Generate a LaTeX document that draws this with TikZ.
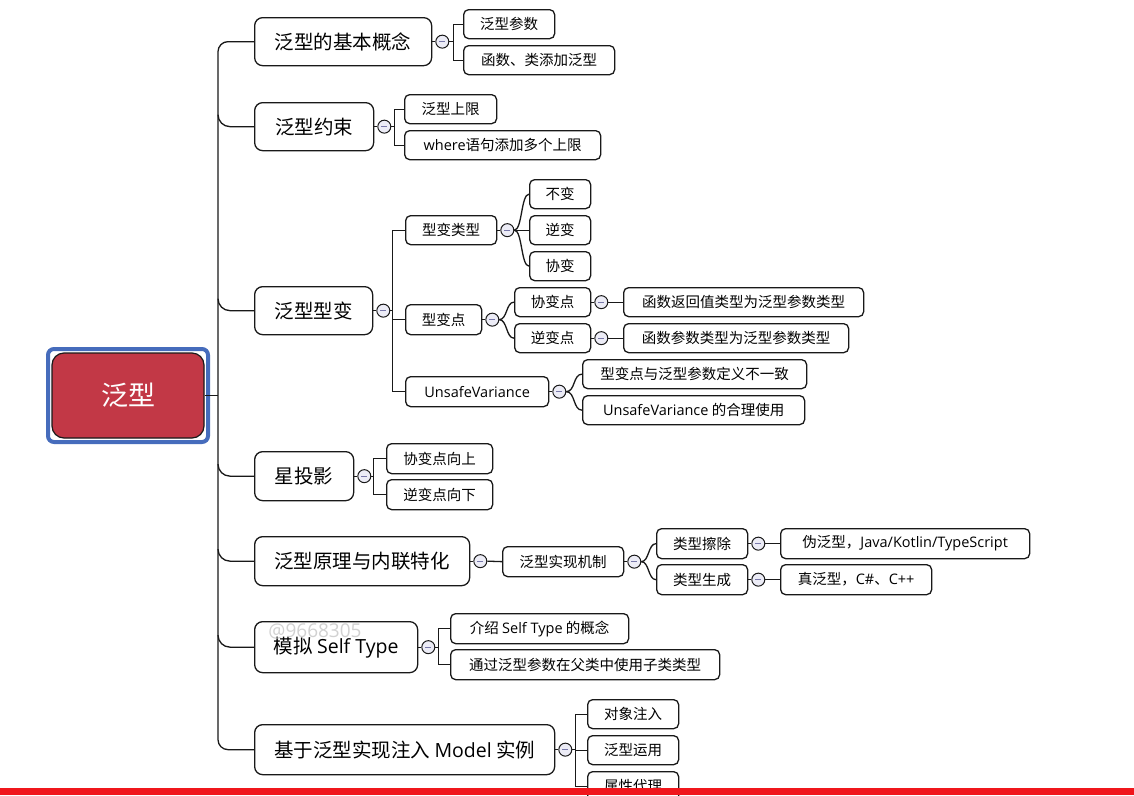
\documentclass[tikz,border=0pt]{standalone}
\usepackage{fontspec}
\setmainfont{Noto Sans CJK SC}
\newfontfamily\lat{Open Sans}
\usetikzlibrary{calc}

\definecolor{rootred}{RGB}{194,56,70}
\definecolor{rootblue}{RGB}{70,108,188}
\definecolor{togfill}{RGB}{236,236,246}
\definecolor{togmark}{RGB}{120,120,170}
\definecolor{barred}{RGB}{240,22,28}
\definecolor{inkline}{RGB}{25,25,25}

\tikzset{
  base/.style={draw=inkline, line width=1.3pt, fill=white, inner sep=0pt,
    anchor=north west, align=center},
  lone/.style={base, rounded corners=8pt, font=\fontsize{19.5}{22}\selectfont},
  ltwo/.style={base, rounded corners=5pt, font=\fontsize{14.5}{17}\selectfont},
  rootbox/.style={rectangle, rounded corners=12pt, fill=rootred, draw=inkline,
    line width=1.2pt, minimum width=152pt, minimum height=85pt, text=white,
    font=\fontsize{27}{30}\selectfont},
  rootframe/.style={rectangle, rounded corners=6pt, draw=rootblue, line width=4pt,
    minimum width=160pt, minimum height=93pt},
  tog/.style={circle, draw=inkline, line width=1pt, fill=togfill,
    minimum size=13pt, inner sep=0pt,
    path picture={\draw[togmark, line width=1pt]
      ($(path picture bounding box.center)+(-3,0)$) --
      ($(path picture bounding box.center)+(3,0)$);}},
  conn/.style={draw=inkline, line width=1.3pt},
  mark/.style={}, 
  wmark/.style={text=gray!45, font=\lat\fontsize{19}{21}\selectfont},
}

% box from its left, top, right and bottom edges
\newcommand\tbox[7]{\node[#2, minimum width={(#5-#3)*1pt},
  minimum height={(#6-#4)*1pt}] (#1) at (#3,#4) {#7};}
% collapse toggle to the right of a node
\newcommand\tog[2]{\node[tog] (#1) at ($(#2.east)+(10,0)$) {};}

\begin{document}
\begin{tikzpicture}[x=1pt, y=-1pt]
\useasboundingbox (0,0) rectangle (1134,795);
\clip (0,0) rectangle (1134,795);
\fill[white] (0,0) rectangle (1134,795);

% central topic
\node[rootframe] (frame) at (128,395.5) {};
\node[rootbox] (root) at (128,395.5) {泛型};
\coordinate (tk) at (218,395.5);

% main topics
\tbox{n1}{lone}{254}{17}{431}{65}{泛型的基本概念}
\tbox{n2}{lone}{254}{102}{373}{150}{泛型约束}
\tbox{n3}{lone}{254}{286}{372}{334}{泛型型变}
\tbox{n4}{lone}{254}{451}{353}{500}{星投影}
\tbox{n5}{lone}{254}{536}{469}{585}{泛型原理与内联特化}
\tbox{n6}{lone}{254}{621}{417}{672}{模拟 {\lat Self Type}}
\tbox{n7}{lone}{254}{724}{554}{774}{基于泛型实现注入 {\lat Model} 实例}

% trunk
\draw[conn] (root.east) -- (tk);
\draw[conn, rounded corners=10pt] (n1.west) -| (tk) |- (n7.west);
\foreach \n in {n2,n3,n4,n5,n6}{
  \draw[conn] (\n.west -| tk) ++(0,-12) to[out=-90,in=180] ++(12,12) -- (\n.west);
}

% subtopics
\tbox{n1a}{ltwo}{463}{9}{554}{38}{泛型参数}
\tbox{n1b}{ltwo}{463}{45}{614}{74}{函数、类添加泛型}
\tbox{n2a}{ltwo}{404}{94}{496}{123}{泛型上限}
\tbox{n2b}{ltwo}{404}{130}{600}{159}{{\lat where}语句添加多个上限}
\tbox{n3a}{ltwo}{405}{215}{496}{244}{型变类型}
\tbox{n3b}{ltwo}{405}{304}{481}{334}{型变点}
\tbox{n3c}{ltwo}{405}{376}{548}{406}{{\lat UnsafeVariance}}
\tbox{v1}{ltwo}{529}{179}{590}{208}{不变}
\tbox{v2}{ltwo}{529}{215}{590}{244}{逆变}
\tbox{v3}{ltwo}{529}{251}{590}{280}{协变}
\tbox{p1}{ltwo}{514}{287}{590}{316}{协变点}
\tbox{p2}{ltwo}{514}{323}{590}{352}{逆变点}
\tbox{p1a}{ltwo}{623}{287}{863}{316}{函数返回值类型为泛型参数类型}
\tbox{p2a}{ltwo}{623}{323}{848}{352}{函数参数类型为泛型参数类型}
\tbox{u1}{ltwo}{582}{359}{806}{388}{型变点与泛型参数定义不一致}
\tbox{u2}{ltwo}{582}{395}{804}{424}{{\lat UnsafeVariance} 的合理使用}
\tbox{n4a}{ltwo}{386}{443}{492}{473}{协变点向上}
\tbox{n4b}{ltwo}{386}{479}{492}{509}{逆变点向下}
\tbox{m1}{ltwo}{502}{546}{623}{576}{泛型实现机制}
\tbox{m1a}{ltwo}{656}{528}{747}{558}{类型擦除}
\tbox{m1b}{ltwo}{656}{564}{747}{594}{类型生成}
\tbox{m1a1}{ltwo}{780}{528}{1029}{558}{伪泛型，{\lat Java/Kotlin/TypeScript}}
\tbox{m1b1}{ltwo}{780}{564}{931}{594}{真泛型，{\lat C\#}、{\lat C++}}
\tbox{n6a}{ltwo}{450}{613}{628}{643}{介绍 {\lat Self Type} 的概念}
\tbox{n6b}{ltwo}{450}{649}{719}{679}{通过泛型参数在父类中使用子类类型}
\tbox{n7a}{ltwo}{587}{699}{678}{728}{对象注入}
\tbox{n7b}{ltwo}{587}{735}{678}{764}{泛型运用}
\tbox{n7c}{ltwo}{587}{771}{678}{800}{属性代理}

% toggles
\tog{c1}{n1} \tog{c2}{n2} \tog{c3}{n3} \tog{c4}{n4}
\tog{c5}{n5} \tog{c6}{n6} \tog{c7}{n7}
\tog{c3a}{n3a} \tog{c3b}{n3b} \tog{c3c}{n3c}
\tog{cp1}{p1} \tog{cp2}{p2}
\tog{cm1}{m1} \tog{cm1a}{m1a} \tog{cm1b}{m1b}

% elbow brackets
\draw[conn] (c1.east) -- ++(4,0) coordinate (b1) |- (n1a.west);
\draw[conn] (b1) |- (n1b.west);
\draw[conn] (c2.east) -- ++(3.5,0) coordinate (b2) |- (n2a.west);
\draw[conn] (b2) |- (n2b.west);
\draw[conn] (c3.east) -- ++(2.5,0) coordinate (b3) |- (n3a.west);
\draw[conn] (b3) |- (n3b.west);
\draw[conn] (b3) |- (n3c.west);
\draw[conn] (c4.east) -- ++(2.5,0) coordinate (b4) |- (n4a.west);
\draw[conn] (b4) |- (n4b.west);
\draw[conn] (c6.east) -- ++(3,0) coordinate (b6) |- (n6a.west);
\draw[conn] (b6) |- (n6b.west);
\draw[conn] (c7.east) -- ++(3,0) coordinate (b7) |- (n7a.west);
\draw[conn] (b7) |- (n7b.west);
\draw[conn] (b7) |- (n7c.west);

% parent to toggle
\foreach \p/\c in {n1/c1,n2/c2,n3/c3,n4/c4,n5/c5,n6/c6,n7/c7,n3a/c3a,n3b/c3b,
  n3c/c3c,p1/cp1,p2/cp2,m1/cm1,m1a/cm1a,m1b/cm1b}{
  \draw[conn] (\p.east) -- (\c.west);
}

% curved braces
\draw[conn] (c3a.east) .. controls +(8,0) and +(-8,0) .. (v1.west);
\draw[conn] (c3a.east) -- (v2.west);
\draw[conn] (c3a.east) .. controls +(8,0) and +(-8,0) .. (v3.west);
\draw[conn] (c3b.east) .. controls +(8,0) and +(-8,0) .. (p1.west);
\draw[conn] (c3b.east) .. controls +(8,0) and +(-8,0) .. (p2.west);
\draw[conn] (c3c.east) .. controls +(9,0) and +(-9,0) .. (u1.west);
\draw[conn] (c3c.east) .. controls +(9,0) and +(-9,0) .. (u2.west);
\draw[conn] (cm1.east) .. controls +(8,0) and +(-8,0) .. (m1a.west);
\draw[conn] (cm1.east) .. controls +(8,0) and +(-8,0) .. (m1b.west);

% straight links
\draw[conn] (c5.east) -- (m1.west);
\draw[conn] (cp1.east) -- (p1a.west);
\draw[conn] (cp2.east) -- (p2a.west);
\draw[conn] (cm1a.east) -- (m1a1.west);
\draw[conn] (cm1b.east) -- (m1b1.west);

% watermark
\node[wmark, opacity=0.8] (wm) at (315,631) {@9668305};

% bottom bar
\fill[barred] (0,788) rectangle (1134,795);
\end{tikzpicture}
\end{document}
